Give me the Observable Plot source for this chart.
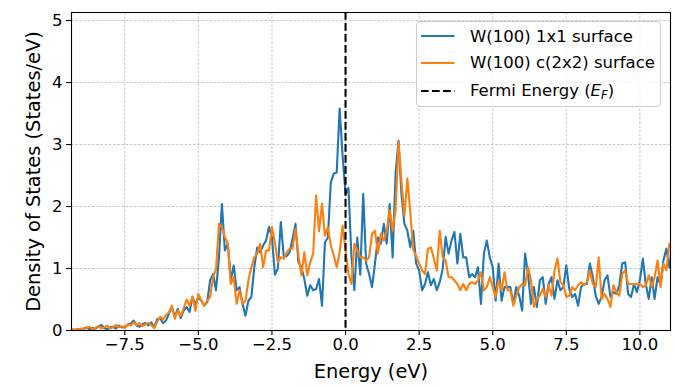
<!DOCTYPE html>
<html>
<head>
<meta charset="utf-8">
<script src="https://cdn.jsdelivr.net/npm/d3@7"></script>
<script src="https://cdn.jsdelivr.net/npm/@observablehq/plot@0.6"></script>
<style>
  html, body { margin: 0; padding: 0; background: white; }
  #wrap { position: relative; width: 675px; height: 388px; font-family: "DejaVu Sans", sans-serif; }
  #legend { position: absolute; left: 416px; top: 21px; width: 245px; height: 86px;
    border: 1px solid #cccccc; border-radius: 4px; background: rgba(255,255,255,0.8);
    font-size: 16.5px; color: #000; box-sizing: border-box; }
  .row { position: absolute; left: 0; height: 22px; display: flex; align-items: center; white-space: nowrap; }
  .row svg { margin-left: 4px; margin-right: 15px; }
</style>
</head>
<body>
<div id="wrap"></div>
<script>
// Energy grid (eV): start and step of the sampled DOS
const energyStart = -9.3;
const energyStep = 0.1;

// W(100) 1x1 surface DOS (States/eV)
const dos1x1 = [
  0.01,0.01,0.02,0.02,0.03,0.05,0.02,0.04,0.03,0.06,
  0.09,0.04,0.02,0.05,0.06,0.03,0.08,0.05,0.06,0.09,
  0.11,0.16,0.08,0.06,0.10,0.12,0.08,0.13,0.05,0.18,
  0.20,0.12,0.16,0.27,0.38,0.22,0.35,0.20,0.32,0.38,
  0.30,0.54,0.42,0.54,0.48,0.40,0.46,0.81,0.91,0.65,
  1.18,2.04,1.29,1.40,0.81,1.05,0.65,0.70,0.43,0.24,
  0.48,0.54,1.02,1.34,1.26,1.37,1.45,1.67,1.50,0.90,
  1.00,1.75,1.20,1.20,1.26,1.48,1.72,1.10,1.02,0.83,
  0.56,0.73,0.65,0.67,0.83,0.40,1.42,1.50,2.39,2.53,
  2.55,3.58,2.82,2.20,2.30,1.20,0.65,1.50,0.90,2.20,
  1.08,0.91,0.70,1.08,1.50,1.40,1.72,1.40,2.04,1.18,
  2.53,3.06,2.20,1.72,1.61,1.34,1.61,1.08,0.97,0.65,
  0.75,0.94,0.73,0.83,0.65,0.78,0.99,1.51,1.24,1.45,
  1.59,1.08,1.56,1.18,1.18,0.86,0.91,0.86,1.02,0.43,
  1.24,1.45,1.18,1.02,0.48,1.08,0.48,0.70,0.70,0.70,
  0.43,0.70,0.56,0.32,1.24,0.91,0.43,0.70,0.38,0.81,
  0.86,0.43,0.75,0.86,0.51,0.81,0.65,0.70,1.05,0.67,
  0.54,0.59,0.40,0.70,0.75,0.75,1.08,0.86,0.56,0.43,
  0.54,0.81,0.89,0.54,0.62,0.59,0.73,1.08,1.10,0.59,
  0.54,0.75,0.62,0.81,1.16,0.75,0.51,0.86,0.51,0.86,
  0.75,1.13,1.32,1.02,1.40
];

// W(100) c(2x2) surface DOS (States/eV)
const dosC2x2 = [
  0.02,0.01,0.02,0.03,0.02,0.04,0.06,0.02,0.04,0.07,
  0.03,0.05,0.08,0.03,0.05,0.09,0.05,0.07,0.04,0.10,
  0.08,0.13,0.09,0.12,0.07,0.10,0.12,0.09,0.04,0.14,
  0.22,0.18,0.25,0.29,0.40,0.19,0.32,0.23,0.36,0.50,
  0.40,0.55,0.32,0.59,0.48,0.40,0.48,0.54,0.86,0.99,
  1.72,1.67,1.51,1.40,0.75,0.86,0.43,0.65,0.43,0.48,
  0.81,1.02,1.18,1.24,1.40,1.02,1.29,1.29,1.67,1.42,
  1.10,1.18,1.16,1.26,1.32,1.32,1.64,1.21,0.89,1.26,
  0.89,1.10,1.24,2.18,1.60,2.05,1.53,1.67,1.37,1.21,
  1.02,1.26,1.69,1.29,0.91,0.75,1.40,1.29,1.18,1.18,
  1.13,1.18,1.56,1.61,1.24,1.56,1.45,1.61,1.94,1.61,
  1.94,3.04,2.40,1.85,2.45,1.90,1.30,1.20,1.08,0.97,
  0.91,1.32,1.34,1.16,0.97,1.61,1.18,1.13,0.86,0.86,
  0.81,0.75,0.65,0.75,0.65,0.75,0.78,0.75,0.81,0.94,
  0.65,0.70,0.86,0.70,0.54,0.81,0.65,0.94,0.65,0.65,
  0.40,0.56,0.70,0.75,0.73,1.02,0.81,0.38,0.51,0.56,
  0.67,0.54,0.73,0.56,0.97,1.16,0.78,0.73,0.54,0.56,
  0.70,0.65,0.73,0.78,0.73,0.78,0.97,0.75,0.70,1.18,
  0.51,0.59,0.51,0.38,0.73,0.62,0.56,0.91,0.97,0.75,
  0.75,0.75,0.75,0.75,0.70,0.73,0.89,0.70,0.86,1.13,
  0.70,1.08,0.97,1.40,1.35
];

const fermiEnergy = [0];
const xTicks = [-7.5, -5.0, -2.5, 0.0, 2.5, 5.0, 7.5, 10.0];
const yTicks = [0, 1, 2, 3, 4, 5];
const seriesNames = ["W(100) 1x1 surface", "W(100) c(2x2) surface"];
const seriesColors = ["#1f77b4", "#ff7f0e"];

const toRows = (vals) => vals.map((v, i) => ({ e: energyStart + i * energyStep, v }));
const rows1 = toRows(dos1x1);
const rows2 = toRows(dosC2x2);

const chart = Plot.plot({
  width: 675,
  height: 388,
  marginLeft: 71,
  marginRight: 5,
  marginTop: 12,
  marginBottom: 58,
  style: { fontFamily: "DejaVu Sans, sans-serif", fontSize: "16.5px", color: "black", background: "white", overflow: "visible" },
  x: { domain: [-9.31, 11.04] },
  y: { domain: [0, 5.13] },
  marks: [
    Plot.gridX(xTicks, { stroke: "#b0b0b0", strokeOpacity: 1, strokeWidth: 0.7, strokeDasharray: "2.6,1.6" }),
    Plot.gridY(yTicks, { stroke: "#b0b0b0", strokeOpacity: 1, strokeWidth: 0.7, strokeDasharray: "2.6,1.6" }),
    Plot.line(rows1, { x: "e", y: "v", stroke: seriesColors[0], strokeWidth: 2.1, strokeLinejoin: "round", clip: true }),
    Plot.line(rows2, { x: "e", y: "v", stroke: seriesColors[1], strokeWidth: 2.1, strokeLinejoin: "round", clip: true }),
    Plot.ruleX(fermiEnergy, { stroke: "black", strokeWidth: 2.1, strokeDasharray: "7.7,3.3" }),
    Plot.frame({ stroke: "black", strokeWidth: 1.1 }),
    Plot.axisX(xTicks, { tickFormat: d3.format(".1f"), tickSize: 5, tickPadding: 3, fontSize: 16.5, label: null, strokeWidth: 1.1 }),
    Plot.axisY(yTicks, { tickFormat: d => String(d), tickSize: 5, tickPadding: 4, fontSize: 16.5, label: null, strokeWidth: 1.1 }),
    Plot.text(["Energy (eV)"], { text: d => d, frameAnchor: "bottom", textAnchor: "middle", lineAnchor: "middle", dy: 41, fontSize: 19.4 }),
    Plot.text(["Density of States (States/eV)"], { text: d => d, frameAnchor: "left", textAnchor: "middle", lineAnchor: "middle", rotate: -90, dx: -38, fontSize: 19.4 })
  ]
});

const wrap = document.getElementById("wrap");
wrap.appendChild(chart);

const legend = document.createElement("div");
legend.id = "legend";
const entries = [
  { label: seriesNames[0], color: seriesColors[0], dash: null, top: 3 },
  { label: seriesNames[1], color: seriesColors[1], dash: null, top: 29.7 },
  { label: null, color: "black", dash: "7.7,3.3", top: 58 }
];
for (const en of entries) {
  const row = document.createElement("div");
  row.className = "row";
  row.style.top = en.top + "px";
  row.innerHTML =
    `<svg width="34" height="6"><line x1="0" y1="3" x2="33.5" y2="3" stroke="${en.color}" stroke-width="2.1"` +
    (en.dash ? ` stroke-dasharray="${en.dash}"` : "") + `/></svg>` +
    (en.label ? `<span>${en.label}</span>` :
      `<span>Fermi Energy (<i>E</i><sub style="font-size:11.5px;font-style:italic;vertical-align:-3px">F</sub>)</span>`);
  legend.appendChild(row);
}
wrap.appendChild(legend);
</script>
</body>
</html>
